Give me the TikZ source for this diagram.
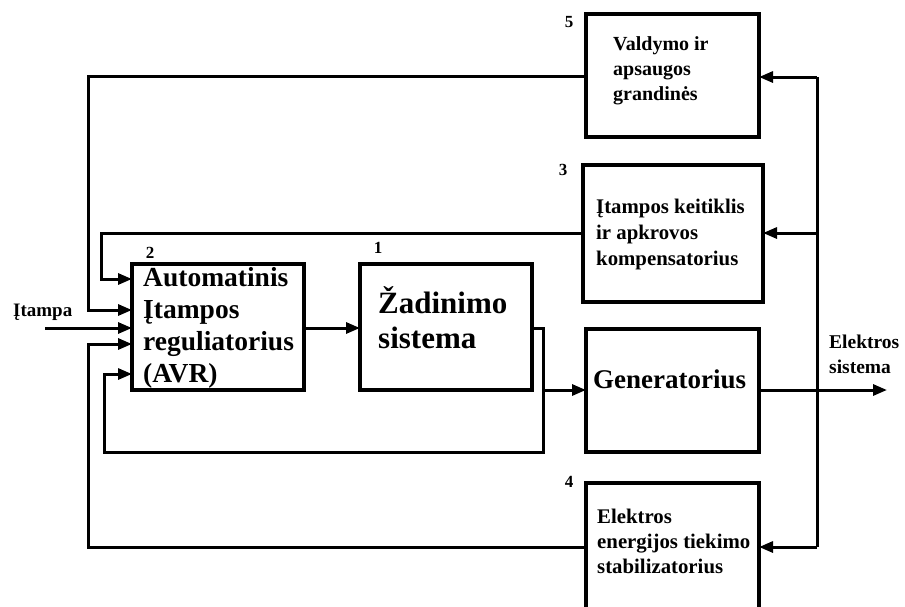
\documentclass[tikz,border=0pt]{standalone}
\usepackage{fontspec}
\setmainfont{Liberation Serif}
\usetikzlibrary{arrows.meta}
\begin{document}
\begin{tikzpicture}[x=1pt,y=-1pt,
  blockbox/.style={draw, line width=3.6pt, inner sep=0pt, outer sep=0pt, anchor=north west},
  conn/.style={line width=3pt},
  arr/.style={conn, -{Triangle[length=14pt,width=11pt]}},
  txt/.style={anchor=base west, align=left, inner sep=0pt, font=\bfseries},
  num/.style={inner sep=0pt, font=\bfseries\fontsize{17}{17}\selectfont}]
\useasboundingbox (0,0) rectangle (905,606);

% blocks
\node[blockbox, minimum width=172pt, minimum height=126pt] (avr) at (132,264) {};
\node[blockbox, minimum width=172pt, minimum height=126pt] (zad) at (360,264) {};
\node[blockbox, minimum width=173pt, minimum height=123pt] (gen) at (586,329) {};
\node[blockbox, minimum width=173pt, minimum height=123pt] (b5)  at (586,14) {};
\node[blockbox, minimum width=180pt, minimum height=137pt] (b3)  at (583,165) {};
\node[blockbox, minimum width=173pt, minimum height=140pt] (b4)  at (586,483) {};

% block texts (anchored on the baseline of the last line)
\node[txt, font=\bfseries\fontsize{27.5}{32}\selectfont] (tavr) at (143,382)
  {Automatinis\\Įtampos\\reguliatorius\\(AVR)};
\node[txt, font=\bfseries\fontsize{31}{35}\selectfont] (tzad) at (378,348)
  {Žadinimo\\sistema};
\node[txt, font=\bfseries\fontsize{27}{32}\selectfont] (tgen) at (593,388)
  {Generatorius};
\node[txt, font=\bfseries\fontsize{20}{25}\selectfont] (tb5) at (613,100)
  {Valdymo ir\\apsaugos\\grandinės};
\node[txt, font=\bfseries\fontsize{20.8}{26}\selectfont] (tb3) at (596,265)
  {Įtampos keitiklis\\ir apkrovos\\kompensatorius};
\node[txt, font=\bfseries\fontsize{20.8}{25}\selectfont] (tb4) at (597,573)
  {Elektros\\energijos tiekimo\\stabilizatorius};
\node[txt, font=\bfseries\fontsize{19.5}{25}\selectfont] (tout) at (829,373)
  {Elektros\\sistema};
\node[txt, font=\bfseries\fontsize{19}{22}\selectfont] (tin) at (13,316) {Įtampa};

% block numbers
\node[num] (n1) at (378,248) {1};
\node[num] (n2) at (150,253) {2};
\node[num] (n3) at (563,170) {3};
\node[num] (n4) at (569,482) {4};
\node[num] (n5) at (569,22) {5};

% routing points
\coordinate (c5) at (88,76);
\coordinate (k5) at (88,310);
\coordinate (c3) at (101,233);
\coordinate (k3) at (101,279);
\coordinate (inl) at (45,328);
\coordinate (c4) at (88,547);
\coordinate (k4) at (88,344);
\coordinate (zo) at (543,328);
\coordinate (zg) at (543,390);
\coordinate (lb) at (543,452);
\coordinate (ll) at (104,452);
\coordinate (kl) at (104,374);
\coordinate (bt) at (817,77);
\coordinate (bm) at (817,233);
\coordinate (bb) at (817,547);
\coordinate (out) at (887,390);

% feedback paths into the regulator
\draw[arr] (b5.west |- c5) -- (c5) -- (k5) -- (avr.west |- k5);
\draw[arr] (b3.west |- c3) -- (c3) -- (k3) -- (avr.west |- k3);
\draw[arr] (inl) -- (avr.west |- inl);
\draw[arr] (b4.west |- c4) -- (c4) -- (k4) -- (avr.west |- k4);
\draw[arr] (zad.east |- zo) -- (zo) -- (lb) -- (ll) -- (kl) -- (avr.west |- kl);

% forward chain
\draw[arr] (avr.east |- zo) -- (zad.west |- zo);
\draw[arr] (zg) -- (gen.west |- zg);
\draw[arr] (gen.east |- out) -- (out);

% measurement bus from the power system
\draw[conn] (bt) -- (bb);
\draw[arr] (bt) -- (b5.east |- bt);
\draw[arr] (bm) -- (b3.east |- bm);
\draw[arr] (bb) -- (b4.east |- bb);
\end{tikzpicture}
\end{document}
